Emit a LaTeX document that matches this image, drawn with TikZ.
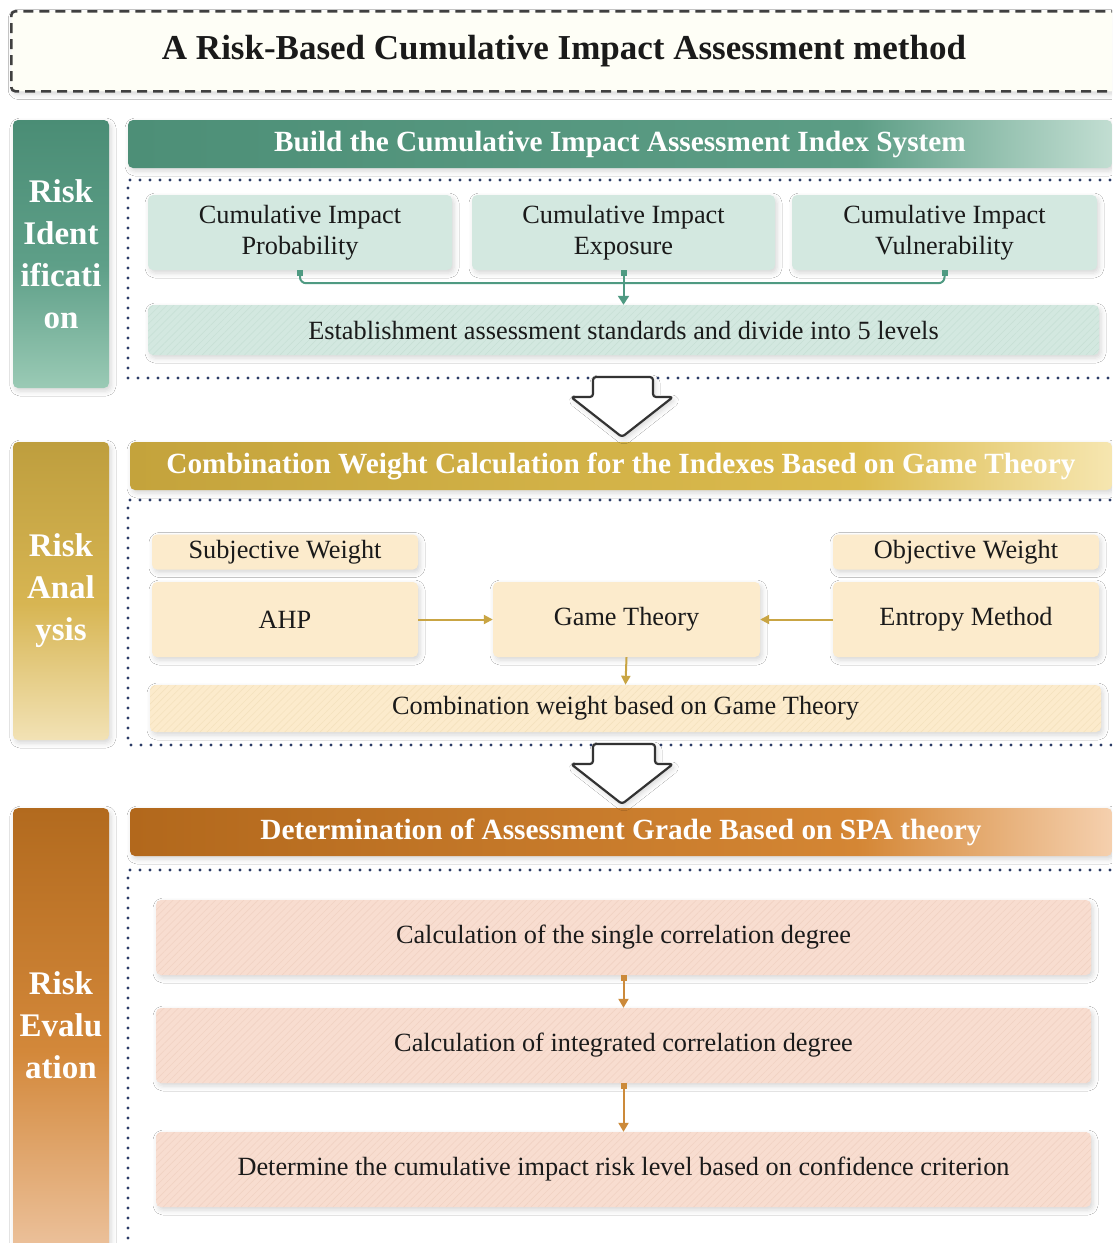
\documentclass[tikz,border=0pt]{standalone}
\usepackage{fontspec}
\setmainfont{Liberation Serif}
\usetikzlibrary{arrows.meta,shadows.blur,patterns.meta}
\definecolor{gbarT}{HTML}{4A8D75}
\definecolor{gbarM}{HTML}{5E9F88}
\definecolor{gbarB}{HTML}{9ACAB5}
\definecolor{gbanL}{HTML}{4D8F77}
\definecolor{gbanM}{HTML}{5C9D85}
\definecolor{gbanR}{HTML}{C2DED2}
\definecolor{ybarT}{HTML}{BE9E3E}
\definecolor{ybarM}{HTML}{D7B552}
\definecolor{ybarB}{HTML}{F2E2B5}
\definecolor{ybanL}{HTML}{C4A33C}
\definecolor{ybanM}{HTML}{DBBB4E}
\definecolor{ybanR}{HTML}{F6E6B0}
\definecolor{obarT}{HTML}{B26A1E}
\definecolor{obarM}{HTML}{D3883A}
\definecolor{obarB}{HTML}{EDC4A0}
\definecolor{obanL}{HTML}{B2681C}
\definecolor{obanM}{HTML}{D48634}
\definecolor{obanR}{HTML}{F5D0AE}
\definecolor{gbox}{HTML}{D3E8E0}
\definecolor{ghatch}{HTML}{C8E0D6}
\definecolor{ybox}{HTML}{FCEBCC}
\definecolor{yhatch}{HTML}{F4E2BE}
\definecolor{obox}{HTML}{F8DDD0}
\definecolor{ohatch}{HTML}{F1D2C3}
\definecolor{gline}{HTML}{4F9A82}
\definecolor{yline}{HTML}{C9A544}
\definecolor{oline}{HTML}{CC8A3A}
\definecolor{navy}{HTML}{2B3B66}
\definecolor{titlefill}{HTML}{FEFEF6}
\definecolor{txt}{HTML}{1A1A1A}
\pgfdeclareverticalshading{gbarsh}{100bp}{color(0bp)=(gbarB); color(25bp)=(gbarB); color(48bp)=(gbarM); color(75bp)=(gbarT); color(100bp)=(gbarT)}
\pgfdeclareverticalshading{ybarsh}{100bp}{color(0bp)=(ybarB); color(25bp)=(ybarB); color(48bp)=(ybarM); color(75bp)=(ybarT); color(100bp)=(ybarT)}
\pgfdeclareverticalshading{obarsh}{100bp}{color(0bp)=(obarB); color(25bp)=(obarB); color(48bp)=(obarM); color(75bp)=(obarT); color(100bp)=(obarT)}
\pgfdeclarehorizontalshading{gbansh}{100bp}{color(0bp)=(gbanL); color(25bp)=(gbanL); color(62bp)=(gbanM); color(75bp)=(gbanR); color(100bp)=(gbanR)}
\pgfdeclarehorizontalshading{ybansh}{100bp}{color(0bp)=(ybanL); color(25bp)=(ybanL); color(62bp)=(ybanM); color(75bp)=(ybanR); color(100bp)=(ybanR)}
\pgfdeclarehorizontalshading{obansh}{100bp}{color(0bp)=(obanL); color(25bp)=(obanL); color(62bp)=(obanM); color(75bp)=(obanR); color(100bp)=(obanR)}
\begin{document}
\begin{tikzpicture}[x=1pt,y=-1pt,
  shad/.style={blur shadow={shadow xshift=2pt,shadow yshift=-3pt,shadow blur radius=5pt,shadow opacity=16}},
  titlebox/.style={draw=black!75,fill=titlefill,line width=2.6pt,dash pattern=on 10pt off 6pt,rounded corners=4pt,shad},
  titletext/.style={font=\fontsize{35}{40}\selectfont\bfseries,text=txt},
  sidebar/.style={rectangle,rounded corners=5pt,minimum width=96pt,shad,align=center,text=white,font=\fontsize{33}{42}\selectfont\bfseries},
  banner/.style={rectangle,rounded corners=5pt,minimum height=48pt,shad,text=white,font=\fontsize{29.3}{34}\selectfont\bfseries},
  dotframe/.style={draw=navy,line width=3.2pt,dash pattern=on 0pt off 10pt,line cap=round},
  boxbase/.style={rectangle,rounded corners=5pt,shad,align=center,text=txt,font=\fontsize{26.3}{31}\selectfont,inner sep=0pt},
  gb/.style={boxbase,fill=gbox},
  gbh/.style={gb,postaction={pattern={Lines[angle=45,distance=5pt,line width=0.6pt]},pattern color=ghatch}},
  yb/.style={boxbase,fill=ybox},
  ybh/.style={yb,postaction={pattern={Lines[angle=45,distance=5pt,line width=0.6pt]},pattern color=yhatch}},
  obh/.style={boxbase,fill=obox,postaction={pattern={Lines[angle=45,distance=5pt,line width=0.6pt]},pattern color=ohatch}},
  gconn/.style={draw=gline,line width=2pt},
  yconn/.style={draw=yline,line width=2pt,-{Triangle[length=9pt,width=9pt]}},
  oconn/.style={draw=oline,line width=2pt,{Square[length=6pt,width=6pt]}-{Triangle[length=9pt,width=10pt]}},
  bigarrow/.style={draw=black!80,fill=white,line width=2.2pt,rounded corners=3pt,line join=round,shad}
]
\useasboundingbox (0,0) rectangle (1112,1243);
\clip (0,0) rectangle (1112,1243);
\fill[white] (0,0) rectangle (1112,1243);

% title
\node[titlebox,minimum width=1130pt,minimum height=80pt,anchor=north west] (tbox) at (10,10) {};
\node[titletext] (title) at (564,51) {A Risk-Based Cumulative Impact Assessment method};

% side bars
\node[sidebar,shading=gbarsh,minimum height=268pt] (bar1) at (61,254) {Risk\\Ident\\ificati\\on};
\node[sidebar,shading=ybarsh,minimum height=298pt] (bar2) at (61,591) {Risk\\Anal\\ysis};
\node[sidebar,shading=obarsh,minimum height=450pt,anchor=north] (bar3) at (61,808) {};
\node[align=center,text=white,font=\fontsize{33}{42}\selectfont\bfseries] (lab3) at (61,1025) {Risk\\Evalu\\ation};

% banners
\node[banner,shading=gbansh,minimum width=984pt] (ban1) at (620,144) {Build the Cumulative Impact Assessment Index System};
\node[banner,shading=ybansh,minimum width=982pt] (ban2) at (621,466) {Combination Weight Calculation for the Indexes Based on Game Theory};
\node[banner,shading=obansh,minimum width=982pt] (ban3) at (621,832) {Determination of Assessment Grade Based on SPA theory};

% dotted frames
\draw[dotframe] (1140,180) -- (128,180) -- (128,378) -- (1140,378);
\draw[dotframe] (1140,500) -- (128,500) -- (128,745) -- (1140,745);
\draw[dotframe] (1140,870) -- (128,870) -- (128,1260);

% section 1
\node[gb,minimum width=304pt,minimum height=75pt] (prob) at (300,232.5) {Cumulative Impact\\Probability};
\node[gb,minimum width=303pt,minimum height=75pt] (expo) at (623.5,232.5) {Cumulative Impact\\Exposure};
\node[gb,minimum width=305pt,minimum height=75pt] (vuln) at (944.5,232.5) {Cumulative Impact\\Vulnerability};
\node[gbh,minimum width=951pt,minimum height=50pt] (est) at (623.5,330) {Establishment assessment standards and divide into 5 levels};
\draw[gconn,rounded corners=6pt,{Square[length=6pt,width=6pt]}-{Square[length=6pt,width=6pt]}] (prob.south) -- ++(0,13) -| (vuln.south);
\draw[gconn,{Square[length=6pt,width=6pt]}-{Triangle[length=9pt,width=11pt]}] (expo.south) -- (est.north);

% section 2
\node[yb,minimum width=266pt,minimum height=35pt] (subj) at (285,552) {Subjective Weight};
\node[yb,minimum width=266pt,minimum height=75pt] (ahp) at (285,619.5) {AHP};
\node[yb,minimum width=267pt,minimum height=75pt] (game) at (626.5,619.5) {Game Theory};
\node[yb,minimum width=266pt,minimum height=35pt] (obj) at (966,552) {Objective Weight};
\node[yb,minimum width=266pt,minimum height=75pt] (ent) at (966,619.5) {Entropy Method};
\node[ybh,minimum width=951pt,minimum height=47pt] (comb) at (625.5,708.5) {Combination weight based on Game Theory};
\draw[yconn] (ahp.east) -- (game.west);
\draw[yconn] (ent.west) -- (game.east);
\draw[yconn] (game.south) -- (comb.north);

% section 3
\node[obh,minimum width=935pt,minimum height=75pt] (s1) at (623.5,937.5) {Calculation of the single correlation degree};
\node[obh,minimum width=935pt,minimum height=75pt] (s2) at (623.5,1045.5) {Calculation of integrated correlation degree};
\node[obh,minimum width=935pt,minimum height=75pt] (s3) at (623.5,1169.5) {Determine the cumulative impact risk level based on confidence criterion};
\draw[oconn] (s1.south) -- (s2.north);
\draw[oconn] (s2.south) -- (s3.north);

% big hollow arrows
\draw[bigarrow] (593,377) -- (653,377) -- (653,397) -- (673,397) -- (622,437) -- (571,397) -- (593,397) -- cycle;
\draw[bigarrow] (593,744) -- (655,744) -- (655,764) -- (673,764) -- (622,804) -- (571,764) -- (593,764) -- cycle;
\end{tikzpicture}
\end{document}
